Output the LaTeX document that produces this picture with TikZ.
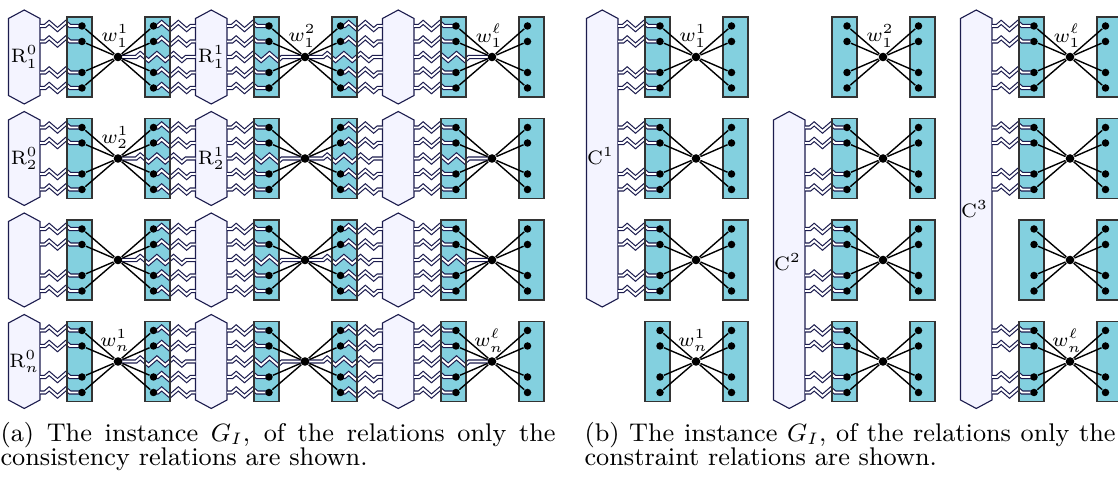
\documentclass[tikz,border=0pt]{standalone}
\usetikzlibrary{decorations.pathmorphing}

\definecolor{gadgetfill}{RGB}{131,208,223}
\definecolor{relfill}{RGB}{244,244,255}
\definecolor{relline}{RGB}{28,28,78}

\pgfdeclarelayer{back}
\pgfdeclarelayer{wire}
\pgfdeclarelayer{frame}
\pgfsetlayers{back,wire,frame,main}

% elongated hexagon for a relation: left x, right x, top apex y, bottom apex y
\newcommand\relhex[4]{%
  \pgfmathsetmacro\hxm{(#1+#2)/2}%
  \filldraw[relation] (#1,#3+8.5) -- (\hxm,#3) -- (#2,#3+8.5) -- (#2,#4-8.5)
    -- (\hxm,#4) -- (#1,#4-8.5) -- cycle;}

\tikzset{
  dotv/.style={circle, fill=black, inner sep=0pt, minimum size=2.7pt},
  hub/.style={circle, fill=black, inner sep=0pt, minimum size=3.1pt},
  gfill/.style={fill=gadgetfill, inner sep=0pt, minimum width=8.64pt, minimum height=28.44pt},
  gframe/.style={draw=black!80, line width=0.42pt},
  relation/.style={fill=relfill, draw=relline, line width=0.4pt},
  wireline/.style={black, line width=0.5pt},
  zz/.style={draw=relline, double=white, double distance=0.7pt, line width=0.42pt,
    decorate, decoration={zigzag, segment length=6pt, amplitude=1.3pt, #1}},
  lbl/.style={font=\fontsize{6.6}{8}\selectfont, inner sep=0pt},
  captext/.style={font=\fontsize{9.2}{11}\selectfont, inner sep=0pt, anchor=base west},
}

\begin{document}
\begin{tikzpicture}[x=0.36pt, y=-0.36pt]
\useasboundingbox (0,0) rectangle (1118,482);

% ---------- gadget boxes, vertices and hubs (both panels)
\foreach \p/\ox in {a/0,b/578}{
  \foreach \r in {0,1,2,3}{
    \foreach \c in {0,1,2}{
      \pgfmathsetmacro\gx{\ox+187*\c}
      \pgfmathsetmacro\gy{57+101.5*\r}
      \begin{pgfonlayer}{back}
        \node[gfill] (\p L\r\c) at (\gx+79.5,\gy) {};
        \node[gfill] (\p R\r\c) at (\gx+157.5,\gy) {};
      \end{pgfonlayer}
      \node[hub] (\p w\r\c) at (\gx+118,\gy) {};
      \foreach \k/\dy in {1/-31,2/-15.5,3/15.5,4/31}{
        \node[dotv] (\p l\r\c\k) at (\gx+82,\gy+\dy) {};
        \node[dotv] (\p r\r\c\k) at (\gx+153.5,\gy+\dy) {};
      }
    }
  }
}

% ---------- panel (a): one relation hexagon per gadget
\begin{pgfonlayer}{back}
\foreach \r in {0,1,2,3}{
  \foreach \c in {0,1,2}{
    \pgfmathsetmacro\gx{187*\c}
    \pgfmathsetmacro\gy{57+101.5*\r}
    \relhex{\gx+8.5}{\gx+40}{\gy-47}{\gy+47}
    \foreach \k/\dy in {0/0,1/-31,2/-15.5,3/15.5,4/31}{
      \coordinate (aHl\r\c\k) at (\gx+8.5,\gy+\dy);
      \coordinate (aHr\r\c\k) at (\gx+40,\gy+\dy);
    }
  }
}
% ---------- panel (b): constraint hexagons
\relhex{586.5}{618}{10}{307}
\relhex{773.5}{805}{111.5}{408.5}
\relhex{960.5}{992}{10}{408.5}
\foreach \c/\r in {0/0,0/1,0/2,1/1,1/2,1/3,2/0,2/1,2/3}{
  \pgfmathsetmacro\gx{578+187*\c}
  \pgfmathsetmacro\gy{57+101.5*\r}
  \foreach \k/\dy in {1/-31,2/-15.5,3/15.5,4/31}{
    \coordinate (bHr\r\c\k) at (\gx+40,\gy+\dy);
  }
}
\end{pgfonlayer}

% ---------- zigzag relation wires
\begin{pgfonlayer}{wire}
\foreach \r in {0,1,2,3}{
  \foreach \c in {0,1,2}{
    \pgfmathtruncatemacro\cn{\c+1}
    \foreach \k in {1,2,3,4}{
      \draw[zz={pre length=1.8pt,post length=3.24pt}] (aHr\r\c\k) -- (al\r\c\k.center);
    }
    \ifnum\c>0
      \draw[zz={pre length=1.8pt,post length=6.5pt}] (aHr\r\c0) -- (aw\r\c.center);
    \fi
    \ifnum\c<2
      \foreach \k in {1,2,3,4}{
        \draw[zz={pre length=1.44pt,post length=1.44pt}] (ar\r\c\k.center) -- (aHl\r\cn\k);
      }
      \draw[zz={pre length=6.5pt,post length=1.44pt}] (aw\r\c.center) -- (aHl\r\cn0);
    \fi
  }
}
\foreach \c/\r in {0/0,0/1,0/2,1/1,1/2,1/3,2/0,2/1,2/3}{
  \foreach \k in {1,2,3,4}{
    \draw[zz={pre length=1.8pt,post length=3.24pt}] (bHr\r\c\k) -- (bl\r\c\k.center);
  }
}
\end{pgfonlayer}

% ---------- box outlines and straight edges
\foreach \p in {a,b}{
  \foreach \r in {0,1,2,3}{
    \foreach \c in {0,1,2}{
      \begin{pgfonlayer}{frame}
        \draw[gframe] (\p L\r\c.south west) rectangle (\p L\r\c.north east);
        \draw[gframe] (\p R\r\c.south west) rectangle (\p R\r\c.north east);
      \end{pgfonlayer}
      \foreach \k in {1,2,3,4}{
        \draw[wireline] (\p l\r\c\k) -- (\p w\r\c);
        \draw[wireline] (\p w\r\c) -- (\p r\r\c\k);
      }
    }
  }
}

% ---------- relation labels
\node[lbl] (ra00) at (24.25,57) {$\mathrm{R}^0_1$};
\node[lbl] (ra01) at (211.25,57) {$\mathrm{R}^1_1$};
\node[lbl] (ra10) at (24.25,158.5) {$\mathrm{R}^0_2$};
\node[lbl] (ra11) at (211.25,158.5) {$\mathrm{R}^1_2$};
\node[lbl] (ra30) at (24.25,361.5) {$\mathrm{R}^0_n$};
\node[lbl] (cb1) at (600.5,156) {$\mathrm{C}^1$};
\node[lbl] (cb2) at (787.5,262) {$\mathrm{C}^2$};
\node[lbl] (cb3) at (974.5,209.25) {$\mathrm{C}^3$};

% ---------- variable labels
\node[lbl] (wa00) at (115,36) {$w^1_1$};
\node[lbl] (wa01) at (302,36) {$w^2_1$};
\node[lbl] (wa02) at (489,36) {$w^\ell_1$};
\node[lbl] (wa10) at (115,137.5) {$w^1_2$};
\node[lbl] (wa30) at (115,340.5) {$w^1_n$};
\node[lbl] (wa32) at (489,340.5) {$w^\ell_n$};
\node[lbl] (wb00) at (693,36) {$w^1_1$};
\node[lbl] (wb01) at (880,36) {$w^2_1$};
\node[lbl] (wb02) at (1067,36) {$w^\ell_1$};
\node[lbl] (wb30) at (693,340.5) {$w^1_n$};
\node[lbl] (wb32) at (1067,340.5) {$w^\ell_n$};

% ---------- captions (first lines justified to the column width)
\node[captext] (capa1) at (0,442)
  {\makebox[199.8pt][s]{(a) The instance $G_I$, of the relations only the}};
\node[captext] (capa2) at (0,466) {consistency relations are shown.};
\node[captext] (capb1) at (584,442)
  {\makebox[191.2pt][s]{(b) The instance $G_I$, of the relations only the}};
\node[captext] (capb2) at (584,466) {constraint relations are shown.};
\end{tikzpicture}
\end{document}
